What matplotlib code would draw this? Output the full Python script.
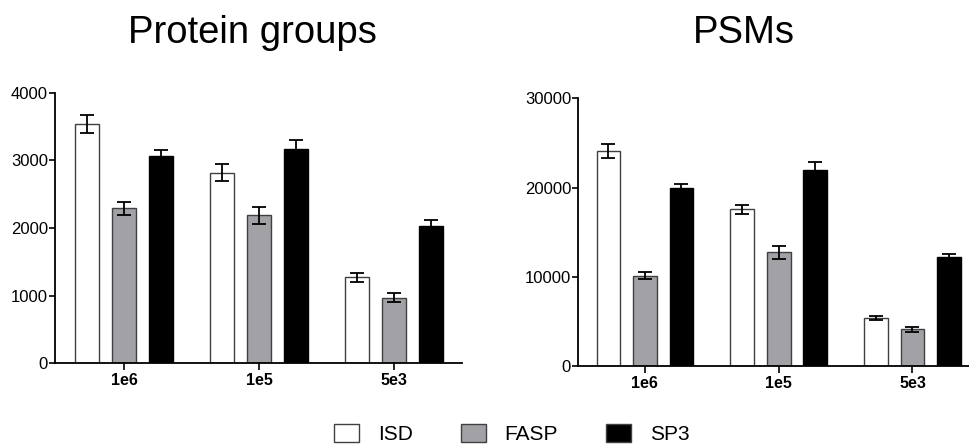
import numpy as np
import matplotlib.pyplot as plt
from matplotlib.patches import Patch

plt.rcParams['font.family'] = ['Liberation Sans', 'DejaVu Sans']

# ============================================================
# DATA
# ============================================================
groups = ['1e6', '1e5', '5e3']
methods = ['ISD', 'FASP', 'SP3']

protein_isd = [3540, 2820, 1270]
protein_fasp = [2290, 2190, 970]
protein_sp3 = [3070, 3170, 2030]
protein_isd_err = [135, 125, 65]
protein_fasp_err = [95, 125, 70]
protein_sp3_err = [80, 125, 90]

psm_isd = [24100, 17550, 5350]
psm_fasp = [10100, 12750, 4100]
psm_sp3 = [19900, 22000, 12250]
psm_isd_err = [750, 500, 200]
psm_fasp_err = [400, 750, 280]
psm_sp3_err = [450, 900, 350]

colors = ['white', '#a2a2a6', 'black']
edges = ['#404040', '#404040', 'black']

# ============================================================
# FIGURE
# ============================================================
fig = plt.figure(figsize=(9.7, 4.46), dpi=100)
fig.patch.set_facecolor('white')


def draw_panel(ax, series, errors, ylim, yticks, xlim):
    x = np.arange(len(groups))
    offset = 0.273
    width = 0.177
    for i, (vals, errs) in enumerate(zip(series, errors)):
        ax.bar(x + (i - 1) * offset, vals, width,
               color=colors[i], edgecolor=edges[i], linewidth=1.0,
               zorder=2)
        ax.errorbar(x + (i - 1) * offset, vals, yerr=errs, fmt='none',
                    ecolor='black', elinewidth=1.3, capsize=5.3,
                    capthick=1.3, zorder=3)
    ax.set_xticks(x)
    ax.set_xticklabels(groups, fontsize=11.5, fontweight='bold')
    ax.set_yticks(yticks)
    ax.tick_params(axis='y', labelsize=12, length=4, width=1.2, pad=1)
    ax.tick_params(axis='x', length=5, width=1.2, pad=2)
    ax.set_ylim(*ylim)
    ax.set_xlim(*xlim)
    for s in ['top', 'right']:
        ax.spines[s].set_visible(False)
    for s in ['left', 'bottom']:
        ax.spines[s].set_linewidth(1.3)
    ax.set_facecolor('white')


ax1 = fig.add_axes([0.0567, 0.1854, 0.4196, 0.6067])
draw_panel(ax1,
           [protein_isd, protein_fasp, protein_sp3],
           [protein_isd_err, protein_fasp_err, protein_sp3_err],
           (0, 4000), [0, 1000, 2000, 3000, 4000], (-0.511, 2.504))

ax2 = fig.add_axes([0.5959, 0.1794, 0.4041, 0.6002])
draw_panel(ax2,
           [psm_isd, psm_fasp, psm_sp3],
           [psm_isd_err, psm_fasp_err, psm_sp3_err],
           (0, 30000), [0, 10000, 20000, 30000], (-0.5, 2.43))

fig.text(252 / 970, 1 - 33 / 446, 'Protein groups', fontsize=27.5,
         ha='center', va='center')
fig.text(744 / 970, 1 - 33 / 446, 'PSMs', fontsize=27.5,
         ha='center', va='center')

handles = [Patch(facecolor=colors[i], edgecolor='#404040', linewidth=1.0,
                 label=methods[i]) for i in range(3)]
fig.legend(handles=handles, loc='center', ncol=3,
           bbox_to_anchor=(512 / 970, 1 - 434 / 446), frameon=False,
           fontsize=15, handlelength=1.2, handleheight=1.0,
           handletextpad=0.9, columnspacing=2.3, borderpad=0.1)

fig.savefig('out.png', dpi=100, facecolor='white')
